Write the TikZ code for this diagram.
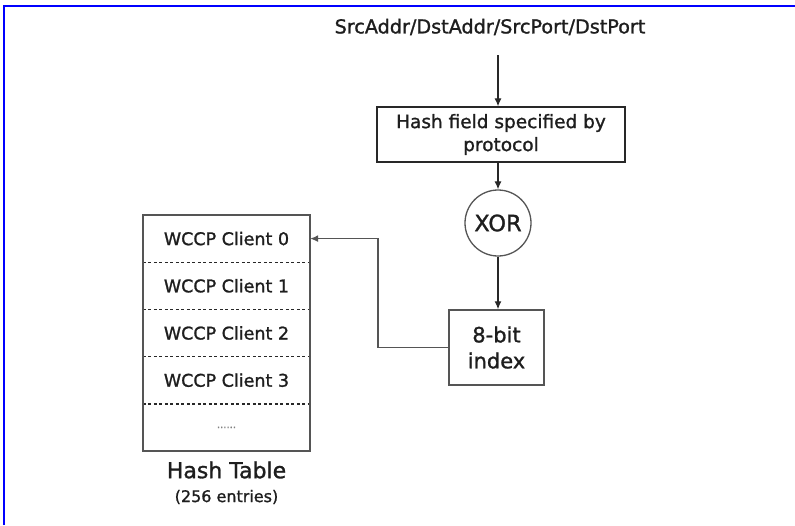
\documentclass[tikz,border=0pt]{standalone}
\usepackage{fontspec}
\setmainfont{DejaVu Sans}[FakeBold=1.2]
\usepackage{tikz}
\usetikzlibrary{arrows.meta,positioning,calc}
\definecolor{hashline}{RGB}{40,40,40}
\definecolor{hashgray}{RGB}{85,85,85}
\definecolor{hashtext}{RGB}{30,30,30}
\definecolor{frameblue}{RGB}{0,0,255}
\tikzset{
    procbox/.style={rectangle, draw=hashline, line width=1.3pt, align=center, text=hashtext, inner sep=2pt},
    xorop/.style={circle, draw=hashgray, line width=1.3pt, minimum size=66pt, inner sep=0pt, text=hashtext, font=\fontsize{22.5}{26}\selectfont},
    cell/.style={rectangle, minimum width=167pt, minimum height=47.2pt, inner sep=0pt, text=hashtext, font=\fontsize{17.5}{20}\selectfont},
    link/.style={draw=hashline, line width=1.2pt, -{Latex[length=8pt,width=7pt]}},
    divider/.style={draw=hashline, line width=1.3pt, dash pattern=on 3pt off 2.5pt},
}

\begin{document}
\begin{tikzpicture}[x=1pt, y=-1pt]
    \useasboundingbox (0,0) rectangle (795,525);
    \fill[white] (0,0) rectangle (795,525);
    \draw[frameblue, line width=2.5pt] (4,525) -- (4,6) -- (795,6);
    % Input fields and hash chain
    \node[text=hashtext, font=\fontsize{19.2}{22}\selectfont] (title) at (490,27) {SrcAddr/DstAddr/SrcPort/DstPort};
    \node[procbox, minimum width=248pt, minimum height=55pt, font=\fontsize{18.5}{23}\selectfont] (hash) at (501,134.5) {Hash field specified by\\protocol};
    \node[xorop] (xor) at (498,223) {XOR};
    \node[procbox, line width=1.5pt, draw=hashgray, minimum width=95pt, minimum height=75pt, font=\fontsize{21}{26}\selectfont] (idx) at (496.5,347.5) {8-bit\\index};
    \coordinate (in) at (498,55);
    \draw[link] (in) -- (hash.north -| in);
    \draw[link] (hash.south -| xor.north) -- (xor.north);
    \draw[link] (xor.south) -- (idx.north -| xor.south);
    % Hash table rows
    \foreach \i/\lbl in {0/WCCP Client 0,1/WCCP Client 1,2/WCCP Client 2,3/WCCP Client 3} {
        \node[cell] (c\i) at (226.5,{238.6+47.2*\i}) {\lbl};
    }
    \node[cell, font=\fontsize{10}{12}\selectfont, text=gray] (c4) at (226.5,427.4) {......};
    \foreach \i in {0,1,2,3} {
        \draw[divider] (c\i.south west) -- (c\i.south east);
    }
    \draw[hashgray, line width=1.5pt] (c0.north west) rectangle (c4.south east);
    \node[text=hashtext, font=\fontsize{22}{26}\selectfont] (tname) at (226.5,470) {Hash Table};
    \node[text=hashtext, font=\fontsize{16}{19}\selectfont] (tsize) at (226.5,497) {(256 entries)};
    % Index lookup
    \coordinate (bend) at (378,0);
    \draw[link, draw=hashgray] (idx.west) -| (bend |- c0.east) -- (c0.east);
\end{tikzpicture}
\end{document}
